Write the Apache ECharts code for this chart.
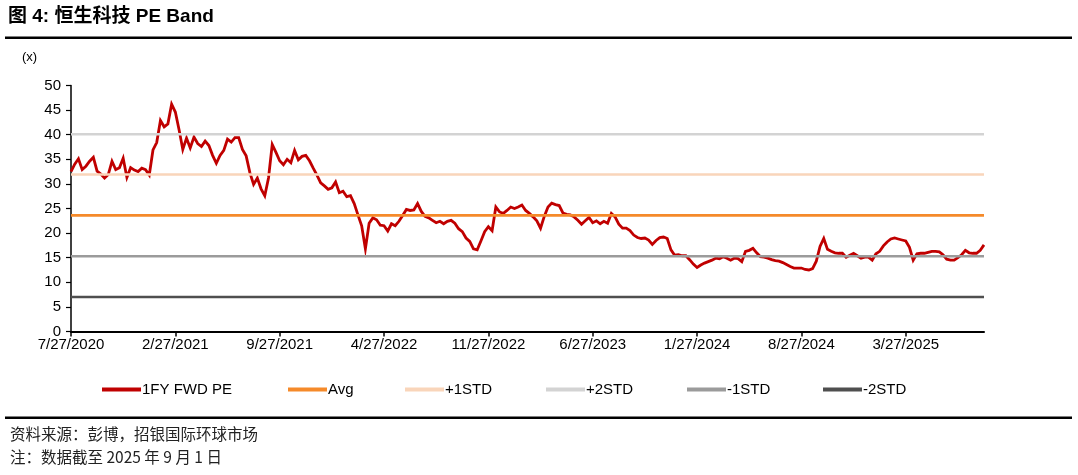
<!DOCTYPE html>
<html>
<head>
<meta charset="utf-8">
<script src="https://cdn.jsdelivr.net/npm/echarts@6/dist/echarts.min.js"></script>
<style>
html,body{margin:0;padding:0;background:#fff;}
#chart{width:1078px;height:475px;}
</style>
</head>
<body>
<div id="chart"></div>
<script>
// ---- data ----
const TITLE = '图 4: 恒生科技 PE Band';
const SOURCE = '资料来源：彭博，招银国际环球市场';
const NOTE = '注：数据截至 2025 年 9 月 1 日';
const START_YEAR = 2020, START_MONTH = 7, START_DAY = 27; // weekly observations from 7/27/2020
const N_POINTS = 246;
const TICK_EVERY = 28; // 7 months of weekly points
const seriesNames = ['1FY FWD PE', 'Avg', '+1STD', '+2STD', '-1STD', '-2STD'];
const pe = [
32.5,34.0,35.1,32.9,33.6,34.6,35.4,32.6,32.0,31.2,
31.9,34.6,32.9,33.3,35.2,31.3,33.3,32.8,32.5,33.2,
32.9,31.8,36.9,38.4,42.9,41.6,42.2,46.2,44.6,41.0,
37.0,39.3,37.3,39.5,38.2,37.6,38.7,37.8,35.8,34.2,
35.8,36.8,39.1,38.5,39.4,39.4,37.0,35.7,32.3,29.9,
31.2,29.0,27.6,31.2,38.0,36.4,34.7,33.9,35.0,34.3,
36.8,34.9,35.6,35.8,34.7,33.2,31.8,30.2,29.6,28.9,
29.2,30.4,28.2,28.5,27.4,27.6,26.0,23.7,21.5,16.8,
22.0,23.1,22.7,21.6,21.5,20.4,21.9,21.5,22.4,23.6,
24.8,24.6,24.7,26.0,24.4,23.4,23.1,22.6,22.1,22.4,
21.9,22.4,22.6,22.0,20.9,20.3,19.0,18.3,16.8,16.6,
18.4,20.3,21.3,20.5,25.3,24.3,24.0,24.6,25.3,25.0,
25.3,25.7,24.6,24.0,23.3,22.5,21.0,23.4,25.3,26.1,
25.8,25.6,24.1,23.8,23.7,23.3,22.6,21.8,22.5,23.2,
22.1,22.5,21.9,22.4,22.0,24.0,23.3,21.8,21.0,21.0,
20.5,19.6,19.1,18.9,19.0,18.6,17.7,18.5,19.1,19.2,
18.9,16.6,15.5,15.6,15.4,15.4,14.6,13.7,13.0,13.5,
13.9,14.2,14.5,14.9,14.8,15.2,14.9,14.5,14.9,14.8,
14.2,16.3,16.5,16.9,16.0,15.2,15.1,14.9,14.6,14.4,
14.3,14.0,13.6,13.2,12.9,12.9,12.9,12.6,12.5,12.8,
14.3,17.3,18.9,16.7,16.3,16.0,15.9,15.9,15.1,15.5,
15.9,15.4,14.9,15.1,15.1,14.5,15.8,16.3,17.4,18.2,
18.8,19.0,18.8,18.6,18.4,17.1,14.5,15.8,15.9,15.9,
16.1,16.3,16.3,16.2,15.6,14.7,14.5,14.5,15.0,15.6,
16.5,16.0,15.9,15.9,16.5,17.6
];
const bandValues = { 'Avg': 23.6, '+1STD': 31.9, '+2STD': 40.1, '-1STD': 15.3, '-2STD': 7.0 };
const yTicks = { min: 0, max: 50, interval: 5 };

// ---- categories (weekly dates) ----
const categories = [];
for (let i = 0; i < N_POINTS; i++) {
  const m = Math.floor(i / 4), k = i % 4;
  const d = new Date(START_YEAR, START_MONTH - 1 + m, START_DAY + 7 * k);
  categories.push((d.getMonth() + 1) + '/' + d.getDate() + '/' + d.getFullYear());
}

// ---- styles ----
const colors = {
  '1FY FWD PE': '#C00000',
  'Avg': '#F58A2A',
  '+1STD': '#F9D5BA',
  '+2STD': '#D3D3D3',
  '-1STD': '#9B9B9B',
  '-2STD': '#4F4F4F'
};
const legendLeft = [97, 283, 400, 541, 682, 818];
const FONT = '"Liberation Sans", Arial, sans-serif';
const CJK = '"Liberation Sans", "Noto Sans CJK SC", sans-serif';

const series = [{
  name: '1FY FWD PE', type: 'line', data: pe, showSymbol: false, symbol: 'none',
  lineStyle: { color: colors['1FY FWD PE'], width: 2.8, join: 'miter' }, itemStyle: { color: colors['1FY FWD PE'] },
  animation: false
}];
Object.keys(bandValues).forEach(name => {
  series.push({
    name, type: 'line', symbol: 'none', animation: false,
    data: [[categories[0], bandValues[name]], [categories[categories.length - 1], bandValues[name]]],
    lineStyle: { color: colors[name], width: 2.6 }, itemStyle: { color: colors[name] }
  });
});

const chart = echarts.init(document.getElementById('chart'), null, { renderer: 'canvas' });
chart.setOption({
  animation: false,
  backgroundColor: '#fff',
  grid: { left: 71, right: 94, top: 85.5, bottom: 143.5, containLabel: false },
  xAxis: {
    type: 'category', data: categories, boundaryGap: false,
    axisLine: { lineStyle: { color: '#000', width: 2 } },
    axisTick: { show: true, length: 5, lineStyle: { color: '#000', width: 1.5 }, interval: (i) => i % TICK_EVERY === 0 },
    axisLabel: { interval: (i) => i % TICK_EVERY === 0, color: '#000', fontSize: 15, fontFamily: FONT, margin: 6 },
    splitLine: { show: false }
  },
  yAxis: {
    type: 'value', min: yTicks.min, max: yTicks.max, interval: yTicks.interval,
    axisLine: { show: true, lineStyle: { color: '#000', width: 1.5 } },
    axisTick: { show: true, length: 5, lineStyle: { color: '#000', width: 1.2 } },
    axisLabel: { color: '#000', fontSize: 15, fontFamily: FONT, margin: 10 },
    splitLine: { show: false }
  },
  legend: seriesNames.map((n, i) => ({
    data: [n], left: legendLeft[i], top: 377, icon: 'rect', itemWidth: 39, itemHeight: 4, itemGap: 0,
    textStyle: { fontSize: 15, fontFamily: FONT, color: '#000', padding: [0, 0, 0, -4] },
    selectedMode: false
  })),
  series,
  graphic: [
    { type: 'text', left: 8, top: 7, style: { text: TITLE, font: 'bold 19px ' + CJK, fill: '#000' } },
    { type: 'rect', shape: { x: 5, y: 36.5, width: 1067, height: 2.6 }, style: { fill: '#000' } },
    { type: 'text', left: 22, top: 51, style: { text: '(x)', font: '13px ' + FONT, fill: '#000' } },
    { type: 'rect', shape: { x: 5, y: 416.5, width: 1067, height: 2.6 }, style: { fill: '#000' } },
    { type: 'text', left: 10, top: 426, style: { text: SOURCE, font: '15.5px "Noto Sans CJK SC", sans-serif', fill: '#222' } },
    { type: 'text', left: 10, top: 449, style: { text: NOTE, font: '15.5px "Noto Sans CJK SC", sans-serif', fill: '#222' } }
  ]
});
</script>
</body>
</html>
